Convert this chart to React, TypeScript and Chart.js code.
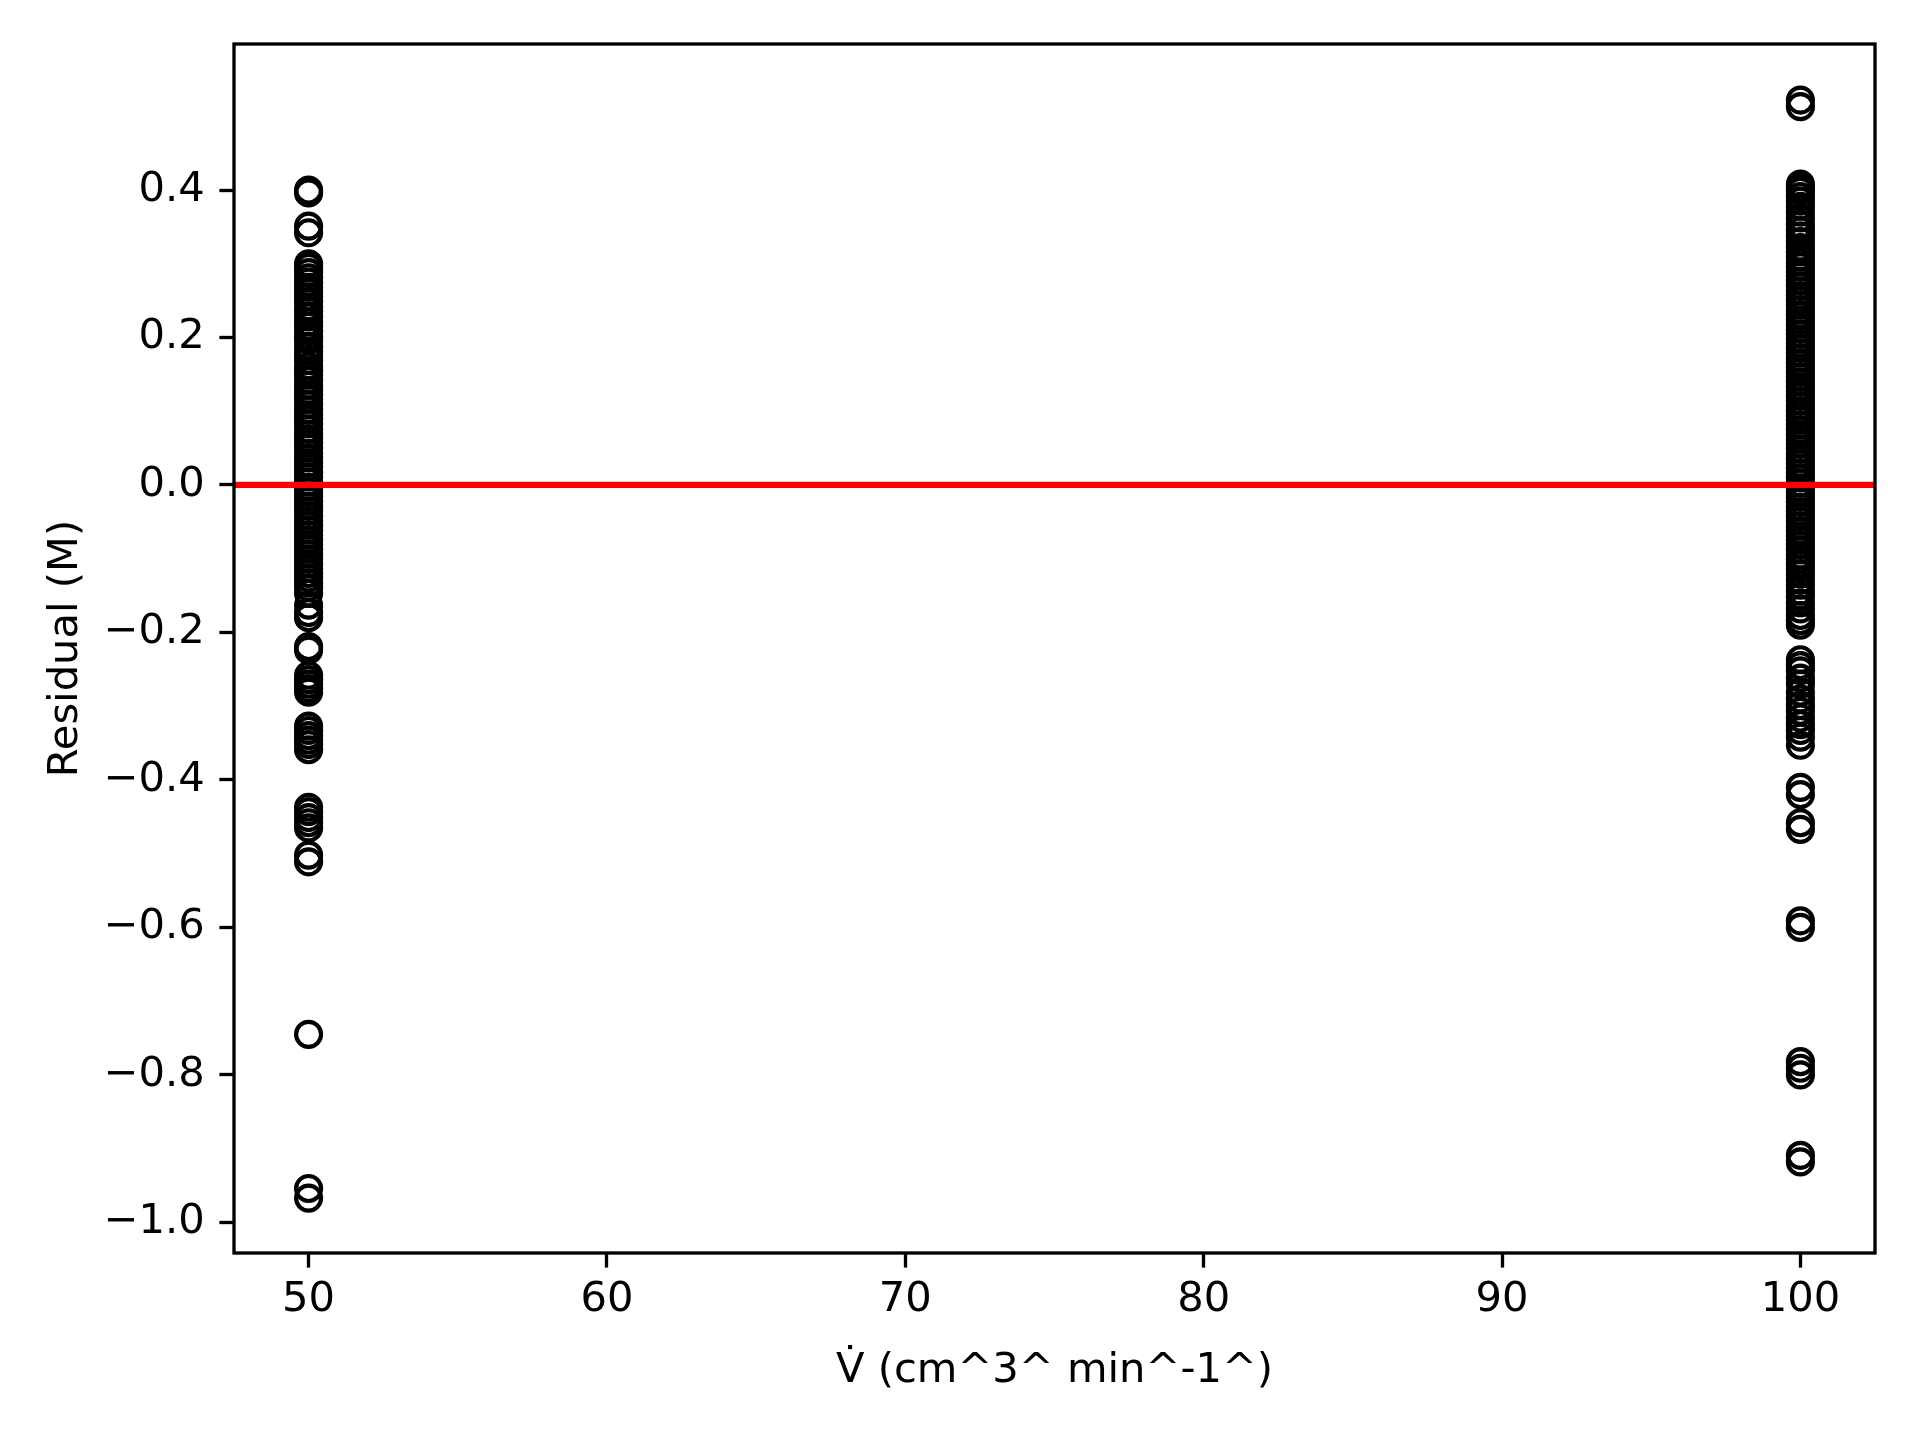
import React, { useEffect, useRef } from "react";
import { Chart, registerables } from "chart.js";

Chart.register(...registerables);

// ---- data ----
const flowRates = [50, 100];

const residuals50 = [
  0.400, 0.396, 0.351, 0.342,
  0.300, 0.295, 0.288, 0.281, 0.275, 0.268, 0.262, 0.255, 0.249, 0.241,
  0.236, 0.228, 0.221, 0.215, 0.208, 0.201, 0.196, 0.188, 0.181, 0.176,
  0.169, 0.161, 0.155, 0.149, 0.142, 0.135, 0.128, 0.122, 0.116, 0.109,
  0.102, 0.095, 0.089, 0.083, 0.076, 0.069, 0.063, 0.056, 0.050, 0.043,
  0.037, 0.030, 0.024, 0.017, 0.011, 0.004, -0.003, -0.009, -0.016, -0.022,
  -0.029, -0.035, -0.042, -0.048, -0.055, -0.061, -0.068, -0.074, -0.081,
  -0.087, -0.094, -0.100, -0.107, -0.113, -0.120, -0.126, -0.133, -0.139,
  -0.147, -0.163, -0.173, -0.180, -0.219, -0.224, -0.258, -0.264, -0.270,
  -0.276, -0.281, -0.327, -0.333, -0.340, -0.346, -0.352, -0.359, -0.437,
  -0.443, -0.451, -0.458, -0.465, -0.502, -0.511, -0.745, -0.954, -0.967,
];

const residuals100 = [
  0.522, 0.513,
  0.408, 0.403, 0.398, 0.391, 0.385, 0.378, 0.370, 0.362, 0.353, 0.345,
  0.338, 0.330, 0.322, 0.316, 0.309, 0.302, 0.296, 0.289, 0.283, 0.276,
  0.270, 0.263, 0.257, 0.250, 0.244, 0.237, 0.231, 0.224, 0.218, 0.211,
  0.205, 0.198, 0.192, 0.185, 0.179, 0.172, 0.166, 0.159, 0.153, 0.146,
  0.140, 0.133, 0.127, 0.120, 0.114, 0.107, 0.101, 0.094, 0.088, 0.081,
  0.075, 0.068, 0.062, 0.055, 0.049, 0.042, 0.036, 0.029, 0.023, 0.016,
  0.010, 0.003, -0.004, -0.010, -0.017, -0.023, -0.030, -0.036, -0.043,
  -0.049, -0.056, -0.062, -0.069, -0.075, -0.082, -0.088, -0.095, -0.101,
  -0.108, -0.114, -0.121, -0.129, -0.136, -0.144, -0.151, -0.160, -0.168,
  -0.177, -0.184, -0.190, -0.237, -0.245, -0.252, -0.262, -0.270, -0.281,
  -0.290, -0.299, -0.307, -0.316, -0.325, -0.333, -0.342, -0.353, -0.410,
  -0.420, -0.458, -0.467, -0.591, -0.600, -0.782, -0.791, -0.800, -0.909,
  -0.918,
];

const xTicks = [50, 60, 70, 80, 90, 100];
const yTicks = [-1.0, -0.8, -0.6, -0.4, -0.2, 0.0, 0.2, 0.4];
const xLimits = [47.5, 102.5];
const yLimits = [-1.0415, 0.598];
const zeroLineY = [0, 0];

const xTitle = "V\u0307 (cm^3^ min^-1^)";
const yTitle = "Residual (M)";

const FONT = "'DejaVu Sans', 'Liberation Sans', sans-serif";
const FS = 41.67;

export default function App() {
  const ref = useRef<HTMLCanvasElement | null>(null);

  useEffect(() => {
    const canvas = ref.current;
    if (!canvas) return;

    const scatterData = [
      ...residuals50.map((v) => ({ x: flowRates[0], y: v })),
      ...residuals100.map((v) => ({ x: flowRates[1], y: v })),
    ];
    const lineData = xLimits.map((x, i) => ({ x, y: zeroLineY[i] }));

    const spinePlugin = {
      id: "spines",
      afterDatasetsDraw(chart: any) {
        const { ctx, chartArea } = chart;
        ctx.save();
        ctx.strokeStyle = "#000";
        ctx.lineWidth = 3.33;
        ctx.strokeRect(
          chartArea.left,
          chartArea.top,
          chartArea.right - chartArea.left,
          chartArea.bottom - chartArea.top
        );
        ctx.restore();
      },
    };

    const chart = new Chart(canvas, {
      type: "scatter",
      data: {
        datasets: [
          {
            type: "line",
            data: lineData,
            borderColor: "#ff0000",
            borderWidth: 6.25,
            pointRadius: 0,
            fill: false,
            order: 0,
          } as any,
          {
            type: "scatter",
            data: scatterData,
            pointRadius: 12.5,
            pointBorderWidth: 4.17,
            pointBorderColor: "#000000",
            pointBackgroundColor: "rgba(0,0,0,0)",
            borderColor: "#000000",
            backgroundColor: "rgba(0,0,0,0)",
            order: 1,
          },
        ],
      },
      options: {
        animation: false,
        responsive: false,
        maintainAspectRatio: false,
        events: [],
        layout: { padding: { top: 44, right: 45, left: 0, bottom: 0 } },
        plugins: {
          legend: { display: false },
          tooltip: { enabled: false },
        },
        scales: {
          x: {
            type: "linear",
            position: "bottom",
            min: xLimits[0],
            max: xLimits[1],
            afterFit: (s: any) => {
              s.height = 1440 - 1253;
            },
            afterBuildTicks: (s: any) => {
              s.ticks = xTicks.map((v) => ({ value: v }));
            },
            ticks: {
              color: "#000",
              font: { family: FONT, size: FS },
              padding: 7.6,
              maxRotation: 0,
              autoSkip: false,
              callback: (v: any) => String(v),
            },
            grid: {
              drawOnChartArea: false,
              drawTicks: true,
              tickLength: 14.6,
              tickWidth: 3.33,
              tickColor: "#000",
            },
            border: { display: false },
            title: {
              display: true,
              text: xTitle,
              color: "#000",
              font: { family: FONT, size: FS },
              padding: { top: 0, bottom: 43.5 },
            },
          },
          y: {
            type: "linear",
            position: "left",
            min: yLimits[0],
            max: yLimits[1],
            afterFit: (s: any) => {
              s.width = 234;
            },
            afterBuildTicks: (s: any) => {
              s.ticks = yTicks.map((v) => ({ value: v }));
            },
            ticks: {
              color: "#000",
              font: { family: FONT, size: FS },
              padding: 14.6,
              autoSkip: false,
              callback: (v: any) => Number(v).toFixed(1).replace("-", "\u2212"),
            },
            grid: {
              drawOnChartArea: false,
              drawTicks: true,
              tickLength: 14.6,
              tickWidth: 3.33,
              tickColor: "#000",
            },
            border: { display: false },
            title: {
              display: true,
              text: yTitle,
              color: "#000",
              font: { family: FONT, size: FS },
              padding: { top: 41.5, bottom: 0 },
            },
          },
        },
      },
      plugins: [spinePlugin],
    } as any);

    return () => chart.destroy();
  }, []);

  return (
    <div style={{ position: "absolute", left: 0, top: 0, width: 1920, height: 1440, background: "#fff" }}>
      <canvas ref={ref} width={1920} height={1440} style={{ width: 1920, height: 1440, display: "block" }} />
    </div>
  );
}
